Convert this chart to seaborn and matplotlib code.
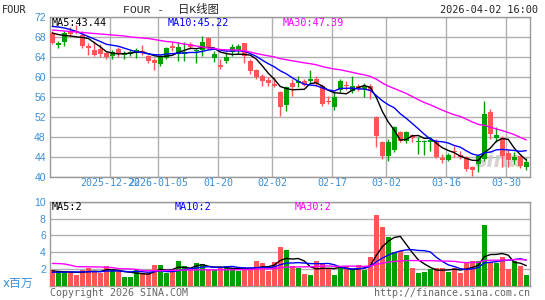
import numpy as np
import pandas as pd
import matplotlib
matplotlib.use("Agg")
import matplotlib.pyplot as plt
import seaborn as sns


SYMBOL = "FOUR"
STAMP = "2026-04-02 16:00"

holidays = ["2025-12-25", "2026-01-01", "2026-01-19", "2026-02-16"]
trade_days = pd.bdate_range("2025-12-08", "2026-04-02").drop(pd.to_datetime(holidays))

open_ = [68.9, 66.5, 67.0, 69.1, 69.3, 68.5, 66.3, 65.5, 65.5, 64.8,
         64.2, 65.6, 64.4, 64.7, 64.9, 65.3, 64.3, 63.5, 62.7, 63.8,
         66.2, 64.7, 64.7, 66.6, 65.2, 65.5, 67.7, 63.8, 62.4, 63.3,
         65.0, 65.3, 66.7, 63.3, 61.5, 60.3, 59.4, 58.5, 57.0, 54.5,
         58.7, 58.8, 59.2, 59.2, 59.5, 58.3, 55.2, 54.0, 57.5, 58.5,
         57.2, 58.1, 57.7, 58.3, 52.0, 47.0, 44.3, 45.5, 49.0, 47.3,
         48.5, 47.0, 47.0, 47.1, 47.3, 43.9, 43.5, 45.2, 44.5, 44.0,
         42.0, 42.7, 43.7, 53.0, 47.9, 47.9, 44.8, 43.5, 44.1, 42.1]
high = [69.3, 67.3, 69.2, 70.0, 70.5, 69.2, 66.9, 67.3, 66.7, 65.1,
        65.5, 66.1, 65.3, 65.5, 65.8, 66.5, 64.5, 63.8, 64.5, 66.1,
        67.0, 67.0, 67.0, 67.0, 65.7, 68.3, 68.0, 65.3, 63.7, 65.0,
        66.7, 66.7, 66.7, 63.6, 61.7, 60.6, 60.0, 60.0, 57.3, 58.3,
        59.7, 60.3, 59.7, 61.5, 60.3, 58.7, 56.3, 57.3, 59.7, 59.2,
        60.3, 58.7, 58.8, 58.7, 52.2, 47.3, 47.7, 50.3, 49.3, 49.2,
        48.7, 48.0, 47.5, 48.0, 47.7, 44.7, 44.8, 46.3, 45.2, 44.3,
        42.3, 44.7, 55.3, 53.7, 50.0, 48.3, 45.7, 45.0, 44.3, 43.8]
low = [66.6, 65.8, 66.2, 68.3, 68.7, 65.9, 64.5, 64.3, 64.0, 63.6,
       63.7, 64.1, 63.6, 64.2, 63.8, 64.5, 62.9, 61.4, 62.3, 63.6,
       65.3, 63.3, 63.3, 65.6, 62.8, 64.3, 65.7, 63.0, 61.7, 62.8,
       64.3, 64.7, 62.8, 60.7, 59.7, 58.3, 58.3, 58.0, 52.3, 53.3,
       56.3, 58.0, 58.3, 58.9, 58.3, 54.3, 54.7, 53.5, 57.0, 57.5,
       56.8, 57.3, 56.0, 55.7, 46.0, 43.7, 43.3, 45.0, 47.0, 46.8,
       47.0, 44.7, 44.5, 45.3, 43.9, 42.8, 43.3, 44.0, 43.7, 41.3,
       40.3, 41.0, 43.3, 47.7, 47.0, 42.0, 42.0, 42.7, 41.9, 41.4]
close = [66.9, 66.8, 68.8, 68.7, 69.0, 66.2, 65.9, 64.5, 64.6, 64.1,
         64.9, 64.9, 64.9, 64.9, 65.4, 64.9, 63.2, 62.9, 64.0, 65.8,
         65.8, 66.0, 65.0, 66.1, 65.4, 67.0, 66.0, 64.5, 62.0, 64.0,
         66.0, 66.3, 64.3, 61.3, 60.0, 59.3, 58.9, 58.3, 54.0, 58.0,
         58.0, 59.2, 58.5, 59.7, 58.8, 54.7, 55.0, 56.1, 59.2, 58.2,
         58.3, 57.7, 58.1, 57.3, 48.3, 44.3, 47.0, 50.0, 47.3, 49.0,
         47.9, 47.3, 47.2, 47.4, 44.0, 43.4, 44.5, 45.0, 44.0, 41.7,
         41.5, 44.3, 52.7, 48.7, 48.5, 44.3, 43.4, 43.9, 42.3, 43.0]
# volume, millions of shares
volume = [1.85, 1.56, 1.56, 1.65, 1.25, 1.85, 2.05, 1.75, 1.45, 2.33,
          1.85, 1.73, 0.97, 1.05, 1.85, 1.45, 1.45, 2.45, 2.45, 1.45,
          1.70, 2.95, 2.33, 1.97, 2.73, 2.57, 1.90, 1.85, 2.05, 2.33,
          2.15, 1.70, 1.85, 1.93, 2.95, 2.73, 1.77, 2.85, 4.65, 4.25,
          2.32, 2.10, 1.35, 1.25, 2.92, 2.64, 2.12, 1.24, 2.04, 2.32,
          1.84, 2.44, 1.84, 3.44, 8.44, 7.04, 5.80, 4.04, 4.10, 3.64,
          2.12, 1.50, 1.60, 2.00, 2.04, 2.04, 1.64, 2.04, 1.52, 2.64,
          2.92, 2.92, 7.24, 2.80, 2.74, 3.44, 1.92, 2.94, 2.34, 1.24]

# averages at the left edge (their windows reach back before the first shown day)
ma5_head = [68.8, 68.5, 68.3, 68.2]
ma10_head = [70.1, 70.0, 69.8, 69.5, 69.1, 68.6, 68.1, 67.6, 67.1]
ma30_head = [69.4, 69.3, 69.2, 69.1, 69.0, 68.9, 68.8, 68.7, 68.6, 68.5,
             68.4, 68.3, 68.2, 68.0, 67.9, 67.8, 67.7, 67.5, 67.3, 67.1,
             67.0, 66.8, 66.6, 66.4, 66.2, 66.0, 65.8, 65.7, 65.5]
vma5_head = [1.76, 1.68, 1.64, 1.62]
vma10_head = [1.58, 1.58, 1.60, 1.62, 1.62, 1.63, 1.64, 1.65, 1.66]
vma30_head = [2.64, 2.63, 2.58, 2.44, 2.26, 2.25, 2.24, 2.23, 2.22, 2.17,
              2.15, 2.02, 2.00, 1.98, 1.93, 1.80, 1.78, 1.77, 1.77, 1.80,
              1.82, 1.84, 1.85, 1.86, 1.87, 1.88, 1.88, 1.87, 1.88]

price_labels = ["MA5:43.44", "MA10:45.22", "MA30:47.39"]
volume_labels = ["MA5:2", "MA10:2", "MA30:2"]

tick_dates = ["2025-12-22", "2026-01-05", "2026-01-20", "2026-02-02",
              "2026-02-17", "2026-03-02", "2026-03-16", "2026-03-30"]
tick_text = ["2025-12-22", "2026-01-05", "01-20", "02-02",
             "02-17", "03-02", "03-16", "03-30"]

RED = "#ff5555"
GREEN = "#00a000"
MA_COLORS = ["black", "#0000ff", "#ff00ff"]
LABEL_BLUE = "#3a8fd8"
GRID = "#b0b0b0"
MONO = ["DejaVu Sans Mono", "Noto Sans CJK SC"]


def moving(values, n, head):
    s = pd.Series(values, dtype=float).rolling(n).mean()
    s.iloc[:len(head)] = head
    return s.values


sns.set_style("white")
plt.rcParams["font.family"] = ["DejaVu Sans", "Noto Sans CJK SC"]

W, H = 545, 300
fig = plt.figure(figsize=(W / 100, H / 100), dpi=100)
ax = fig.add_axes([50 / W, 1 - 177 / H, 480 / W, 160 / H])
axv = fig.add_axes([50 / W, 1 - 285.5 / H, 480 / W, 83.5 / H])

x = np.arange(len(trade_days))
o = np.array(open_)
c = np.array(close)
up = c >= o
colors = np.where(up, GREEN, RED)

# candles
ax.vlines(x, low, high, colors=colors, lw=1, zorder=3)
body = np.maximum(np.abs(c - o), 0.15)
ax.bar(x, body, bottom=np.minimum(o, c), width=0.78, color=colors,
       linewidth=0, zorder=4)

for n, head, col in zip([5, 10, 30], [ma5_head, ma10_head, ma30_head], MA_COLORS):
    sns.lineplot(x=x, y=moving(close, n, head), color=col, lw=1, ax=ax,
                 zorder=5, legend=False)

# volume
axv.bar(x, volume, width=0.85, color=colors, linewidth=0, zorder=3)
for n, head, col in zip([5, 10, 30], [vma5_head, vma10_head, vma30_head], MA_COLORS):
    sns.lineplot(x=x, y=moving(volume, n, head), color=col, lw=1, ax=axv,
                 zorder=5, legend=False)

xlim = (-0.38, len(x) - 0.38)
pos = {d: i for i, d in enumerate(trade_days.strftime("%Y-%m-%d"))}
tick_pos = [pos[d] - 0.4 for d in tick_dates]

ax.set_xlim(*xlim)
ax.set_ylim(40, 72)
ax.set_yticks(range(40, 73, 4))
ax.set_xticks(tick_pos)
ax.set_xticklabels(tick_text, family="DejaVu Sans Mono", fontsize=7.2,
                   color=LABEL_BLUE)
ax.tick_params(axis="y", length=0, pad=3, labelsize=7.5, labelcolor=LABEL_BLUE)
ax.tick_params(axis="x", length=0, pad=0.5)
for lab in ax.get_yticklabels():
    lab.set_family("Liberation Sans")
ax.grid(True, color=GRID, lw=1, zorder=0)
ax.set_xlabel("")
ax.set_ylabel("")

axv.set_xlim(*xlim)
axv.set_ylim(0, 10)
axv.set_yticks([2, 4, 6, 8, 10])
axv.set_xticks([])
axv.tick_params(axis="y", length=0, pad=3, labelsize=7.5, labelcolor=LABEL_BLUE)
for lab in axv.get_yticklabels():
    lab.set_family("Liberation Sans")
axv.grid(True, axis="y", color=GRID, lw=1, zorder=0)
axv.set_xlabel("")
axv.set_ylabel("")

for a in (ax, axv):
    for sp in a.spines.values():
        sp.set_color("#999999")
        sp.set_linewidth(1)

# header
fig.text(2 / W, 1 - 10 / H, SYMBOL, family=MONO, fontsize=7.4, va="center")
fig.text(123 / W, 1 - 10 / H, f"{SYMBOL} -  日K线图",
         family=["Liberation Mono", "Noto Sans CJK SC"], fontsize=8.2, va="center")
fig.text(538 / W, 1 - 10 / H, STAMP, family=MONO, fontsize=7.4,
         va="center", ha="right")

for px, txt, col in zip([52, 168, 283], price_labels, MA_COLORS):
    fig.text(px / W, 1 - 23 / H, txt, family=MONO, fontsize=7.3,
             color=col, va="center", zorder=10)
for px, txt, col in zip([52, 175, 295], volume_labels, MA_COLORS):
    fig.text(px / W, 1 - 207.5 / H, txt, family=MONO, fontsize=7.3,
             color=col, va="center", zorder=10)

fig.text(3 / W, 1 - 283 / H, "x百万", family=["DejaVu Sans", "Noto Sans CJK SC"],
         fontsize=8.5, color=LABEL_BLUE, va="center")
fig.text(50 / W, 1 - 293 / H, "Copyright 2026 SINA.COM", family=MONO,
         fontsize=7.2, color="#666666", va="center")
fig.text(530 / W, 1 - 293 / H, "http://finance.sina.com.cn", family=MONO,
         fontsize=7.2, color="#666666", va="center", ha="right")

# watermark
ax.text(0.985, 0.04, "sina", transform=ax.transAxes, ha="right", va="bottom",
        fontsize=15, fontweight="bold", style="italic", color="#c8c8c8",
        alpha=0.8, zorder=2)

fig.savefig("out.png", dpi=100)
